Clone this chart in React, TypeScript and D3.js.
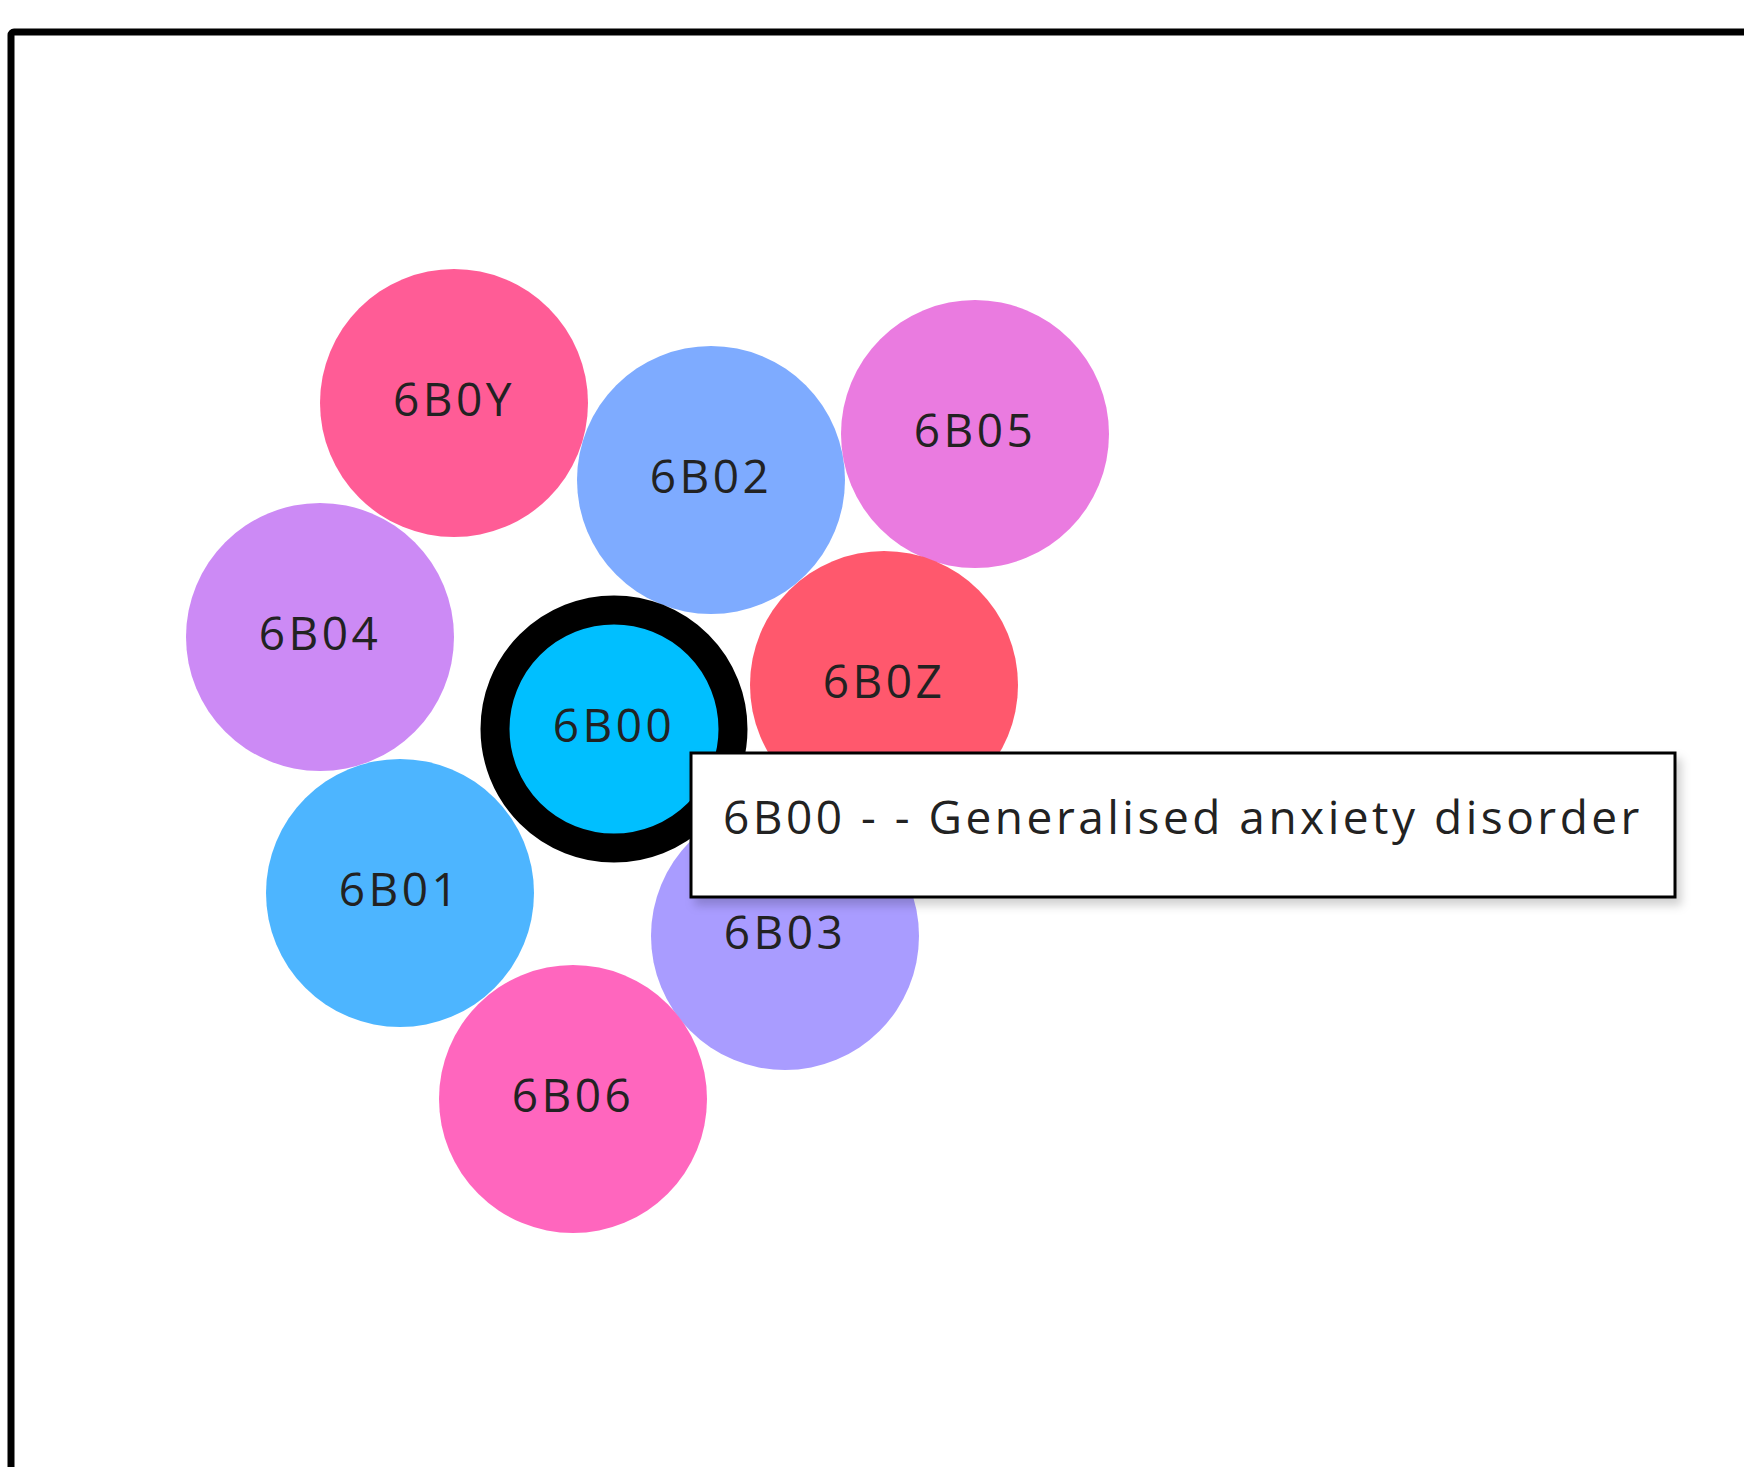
import React, { useEffect, useRef } from 'react';
import * as d3 from 'd3';

// bubble cluster data, positions relative to the selected node
const codes = ['6B0Y', '6B02', '6B05', '6B04', '6B0Z', '6B00', '6B01', '6B03', '6B06'];
const dx = [-160, 97, 361, -294, 270, 0, -214, 171, -41];
const dy = [-326, -249, -295, -92, -44, 0, 164, 207, 370];
const colors = ['#ff5c96', '#7eabff', '#ea7be0', '#cc8af5', '#ff586d', '#00bfff', '#4db5ff', '#a99cff', '#ff66be'];
const selected = '6B00';
const selectedTitle = 'Generalised anxiety disorder';

const W = 1744;
const H = 1467;

function App() {
	const ref = useRef<SVGSVGElement>(null);

	useEffect(() => {
		const svg = d3.select(ref.current);
		svg.selectAll('*').remove();

		const x = d3.scaleLinear().domain([-614, W - 614]).range([0, W]);
		const y = d3.scaleLinear().domain([-729, H - 729]).range([0, H]);
		const color = d3.scaleOrdinal<string, string>().domain(codes).range(colors);
		const r = 134;
		const font = "'Open Sans', 'Noto Sans', sans-serif";

		const defs = svg.append('defs');
		const f = defs.append('filter').attr('id', 'shadow').attr('x', '-10%').attr('y', '-20%').attr('width', '130%').attr('height', '160%');
		f.append('feDropShadow').attr('dx', 5).attr('dy', 7).attr('stdDeviation', 5)
			.attr('flood-color', '#000').attr('flood-opacity', 0.18);

		// frame
		svg.append('rect')
			.attr('x', 11).attr('y', 32)
			.attr('width', 2000).attr('height', 2000)
			.attr('rx', 3)
			.attr('fill', 'none')
			.attr('stroke', '#000')
			.attr('stroke-width', 7);

		const nodes = codes.map((c, i) => ({ code: c, x: dx[i], y: dy[i] }));

		const g = svg.append('g');
		const node = g.selectAll('g.node').data(nodes).enter().append('g').attr('class', 'node')
			.attr('transform', d => `translate(${x(d.x)},${y(d.y)})`);

		node.append('circle')
			.attr('r', d => d.code === selected ? r - 15 : r)
			.attr('fill', d => color(d.code))
			.attr('stroke', d => d.code === selected ? '#000' : 'none')
			.attr('stroke-width', d => d.code === selected ? 29 : 0);

		node.append('text')
			.attr('text-anchor', 'middle')
			.attr('y', 13)
			.attr('font-family', font)
			.attr('font-size', 46)
			.attr('letter-spacing', 3.5)
			.attr('fill', '#222')
			.text(d => d.code);

		// tooltip
		const tip = svg.append('g').attr('transform', 'translate(691,753)');
		tip.append('rect')
			.attr('width', 984).attr('height', 144)
			.attr('fill', '#fff')
			.attr('stroke', '#000')
			.attr('stroke-width', 3)
			.attr('filter', 'url(#shadow)');
		tip.append('text')
			.attr('x', 32).attr('y', 81)
			.attr('font-family', font)
			.attr('font-size', 46)
			.attr('letter-spacing', 3.5)
			.attr('fill', '#222')
			.text(`${selected} - - ${selectedTitle}`);
	}, []);

	return (
		<svg ref={ref} width={W} height={H} style={{ position: 'absolute', left: 0, top: 0, display: 'block', background: '#fff' }} />
	);
}

export default App;
